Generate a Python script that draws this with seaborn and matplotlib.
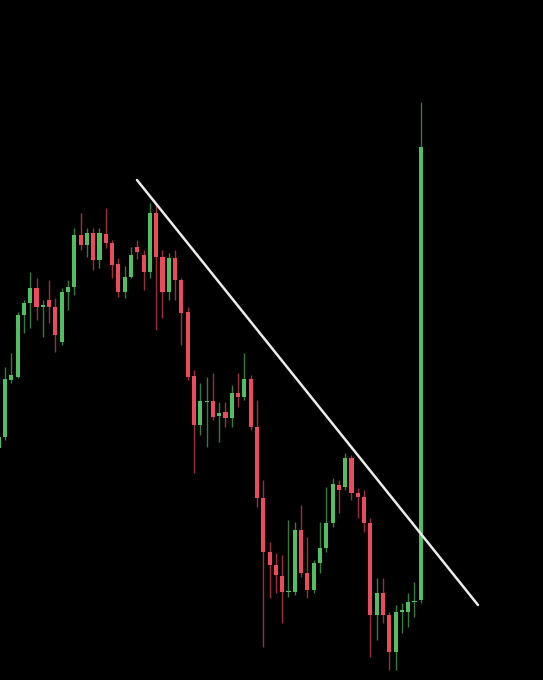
import numpy as np
import pandas as pd
import seaborn as sns
import matplotlib.pyplot as plt

# candle data (price levels)
opens = [552, 563, 620, 623, 685, 697, 712, 693, 700, 693, 658, 708, 713, 765, 755, 767, 740, 766,
         757, 736, 708, 723, 753, 745, 728, 787, 743, 708, 742, 720, 688, 624, 575, 598, 599, 584,
         588, 582, 607, 603, 621, 573, 502, 448, 435, 424, 408, 408, 470, 427, 410, 437, 452, 477,
         515, 513, 542, 507, 503, 477, 385, 407, 385, 348, 388, 388, 398, 400]
highs = [564, 633, 647, 688, 700, 728, 722, 700, 720, 702, 712, 720, 772, 787, 772, 772, 772, 792,
         760, 742, 734, 753, 760, 750, 797, 795, 750, 747, 750, 722, 693, 630, 617, 623, 627, 598,
         598, 615, 627, 647, 625, 600, 520, 458, 447, 445, 480, 478, 495, 463, 440, 478, 513, 522,
         520, 547, 545, 512, 510, 482, 422, 422, 388, 395, 397, 407, 418, 898]
lows = [540, 560, 617, 622, 667, 672, 680, 663, 677, 648, 655, 690, 705, 750, 743, 730, 732, 752,
        722, 703, 702, 722, 741, 710, 722, 670, 682, 700, 700, 655, 620, 527, 565, 553, 580, 558,
        573, 573, 593, 600, 570, 493, 353, 402, 407, 377, 403, 405, 423, 402, 407, 427, 448, 473,
        487, 510, 500, 482, 468, 343, 360, 377, 330, 330, 367, 373, 383, 397]
closes = [563, 621, 625, 685, 697, 712, 693, 695, 693, 665, 708, 713, 765, 755, 767, 740, 767, 757,
          735, 708, 723, 745, 748, 728, 787, 743, 708, 742, 720, 687, 623, 575, 599, 599, 583, 587,
          582, 607, 603, 621, 573, 502, 448, 435, 425, 408, 409, 470, 427, 410, 437, 452, 477, 516,
          510, 542, 507, 503, 477, 385, 407, 385, 348, 388, 390, 398, 399, 853]

# trend line end points (candle index, price)
trend_x = [21.95, 76.08]
trend_y = [820, 395]

df = pd.DataFrame({'open': opens, 'high': highs, 'low': lows, 'close': closes})
df['idx'] = np.arange(len(df))
df['up'] = df['close'] >= df['open']

green = '#52be62'
red = '#ea4b5d'

sns.set_theme(style='dark', rc={'axes.facecolor': 'black', 'figure.facecolor': 'black'})
fig = plt.figure(figsize=(5.43, 6.80), dpi=100)
ax = fig.add_axes([0, 0, 1, 1])
ax.set_facecolor('black')

colors = np.where(df['up'], green, red)

# wicks
ax.vlines(df['idx'], df['low'], df['high'], colors=colors, linewidth=1.0, alpha=0.65, zorder=2)

# bodies
bottoms = df[['open', 'close']].min(axis=1)
heights = (df['close'] - df['open']).abs().clip(lower=1.5)
ax.bar(df['idx'], heights, bottom=bottoms, width=0.66, color=colors, linewidth=0, zorder=3)

# trend line
sns.lineplot(x=trend_x, y=trend_y, ax=ax, color='#ececec', linewidth=1.8, zorder=4)

ax.set_xlim(0.206, 86.4)
ax.set_ylim(320, 1000)
ax.axis('off')

fig.savefig('out.png', dpi=100, facecolor='black')
